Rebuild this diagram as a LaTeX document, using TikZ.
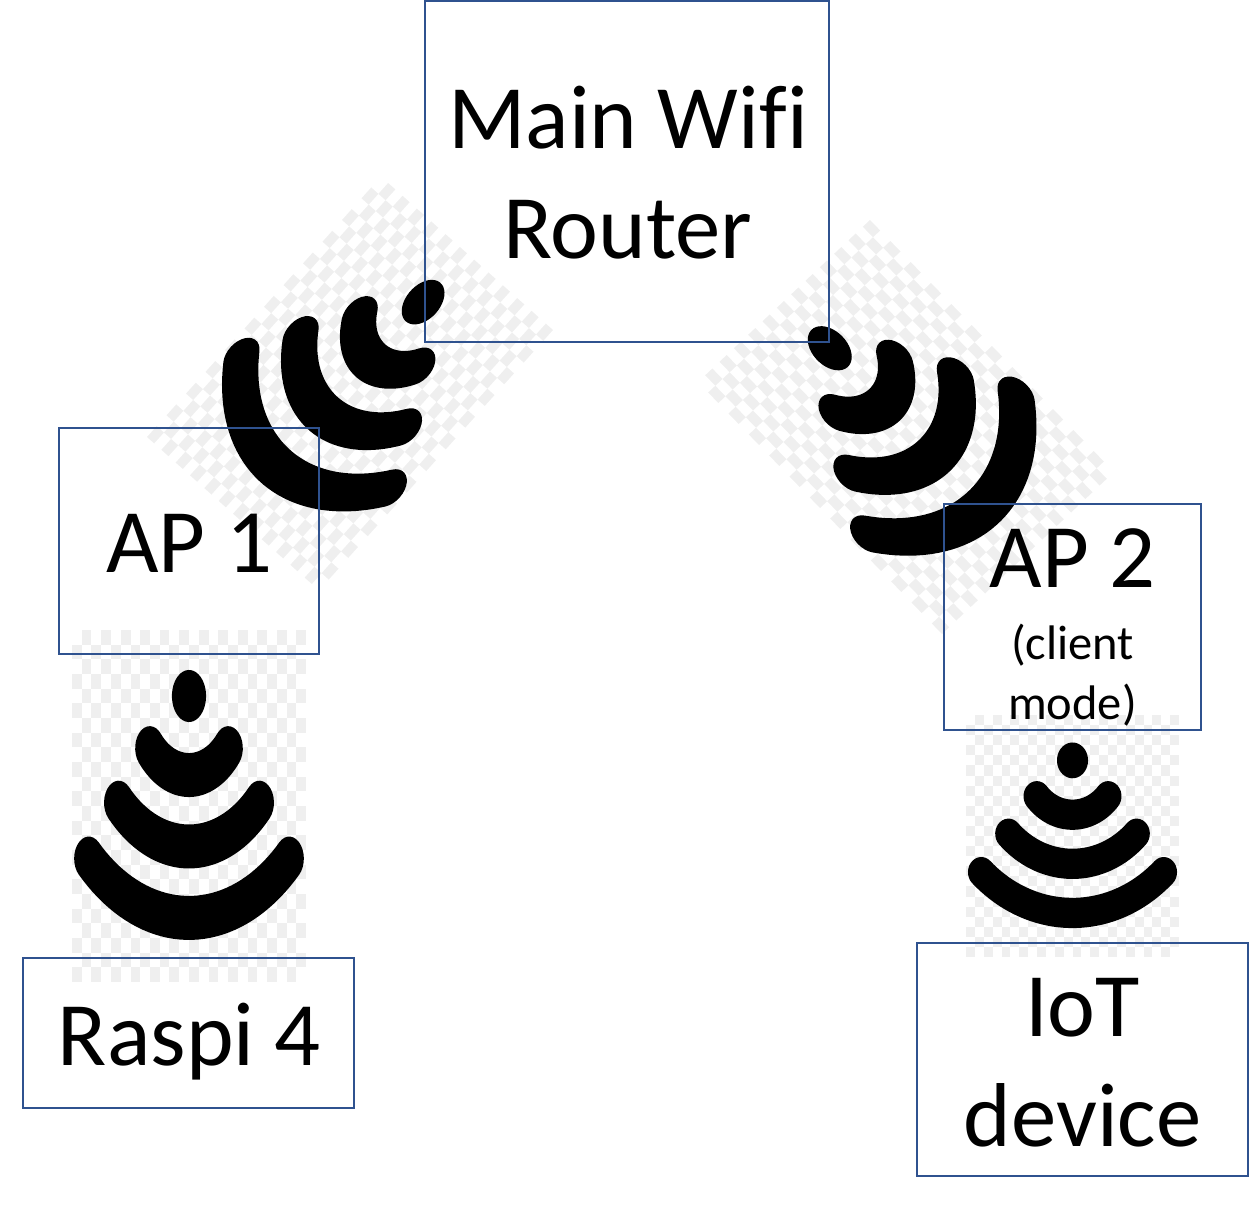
\documentclass[tikz,border=0pt]{standalone}
\usepackage{fontspec}
\setmainfont{Carlito}[Ligatures=NoCommon]
\definecolor{boxblue}{HTML}{2F528F}
\definecolor{checkgrey}{HTML}{EFEFEF}
\newcommand{\bigsize}{\fontsize{90.7}{110}\selectfont}
\newcommand{\smallsize}{\fontsize{48.5}{60}\selectfont}
\tikzset{
  boxnode/.style={draw=boxblue,line width=1.5pt,anchor=north west,inner sep=0pt,outer sep=0pt},
  boxlabel/.style={inner sep=0pt,outer sep=0pt,align=center,font=\bigsize},
  smalllabel/.style={inner sep=0pt,outer sep=0pt,align=center,font=\smallsize},
  checkcell/.style={fill=checkgrey,draw=none},
  wifibar/.style={fill=black,draw=none},
}
\newcommand{\wifibarshape}[3]{%
  \fill[wifibar] plot[domain=90-#2:90+#2,samples=40] ({.5+(#1+#3/2)*cos(\x)},{.19+(#1+#3/2)*sin(\x)})
   -- plot[domain=90+#2:270+#2,samples=16] ({.5+#1*cos(90+#2)+#3/2*cos(\x)},{.19+#1*sin(90+#2)+#3/2*sin(\x)})
   -- plot[domain=90+#2:90-#2,samples=40] ({.5+(#1-#3/2)*cos(\x)},{.19+(#1-#3/2)*sin(\x)})
   -- plot[domain=270-#2:450-#2,samples=16] ({.5+#1*cos(90-#2)+#3/2*cos(\x)},{.19+#1*sin(90-#2)+#3/2*sin(\x)})
   -- cycle;}
% #1,#2 origin, #3,#4 image x-axis, #5,#6 image y-axis (canvas pt, y up)
\newcommand{\wifiicon}[6]{%
  \begin{scope}[shift={(#1pt,#2pt)},x={(#3pt,#4pt)},y={(#5pt,#6pt)}]
    \foreach \r in {0,...,23}{\foreach \c in {0,...,23}{%
      \pgfmathparse{int(mod(\r+\c,2))}%
      \ifnum\pgfmathresult=1
        \fill[checkcell] ({\c/24},{\r/24}) -- ({(\c+1)/24},{\r/24}) -- ({(\c+1)/24},{(\r+1)/24}) -- ({\c/24},{(\r+1)/24}) -- cycle;
      \fi}}
    \fill[wifibar] plot[domain=0:360,samples=40] ({.5+.073*cos(\x)},{.1875+.074*sin(\x)}) -- cycle;
    \wifibarshape{.222}{49}{.125}
    \wifibarshape{.425}{45}{.125}
    \wifibarshape{.628}{43}{.125}
  \end{scope}}
\begin{document}
\begin{tikzpicture}[x=1pt,y=-1pt]
  \useasboundingbox (0,0) rectangle (1258,1225);
  \wifiicon{72}{-630}{234}{0}{0}{-352}
  \wifiicon{966}{-715}{213}{0}{0}{-242}
  \wifiicon{381}{-176.6}{172}{-153.4}{-234}{-260.4}
  \wifiicon{698}{-382}{172}{162}{244}{-252}
  \node[boxnode,minimum width=404pt,minimum height=341pt] (router) at (425,1) {};
  \node[boxnode,minimum width=260pt,minimum height=226pt] (apone) at (59,428) {};
  \node[boxnode,minimum width=257pt,minimum height=226pt] (aptwo) at (944,504) {};
  \node[boxnode,minimum width=331pt,minimum height=150pt] (raspi) at (23,958) {};
  \node[boxnode,minimum width=331pt,minimum height=233pt] (iot) at (917,943) {};
  \node[boxlabel,yshift=-1pt,xshift=1pt] (routerlabel) at (router.center) {Main Wifi\\Router};
  \node[boxlabel,yshift=-2pt] (aponelabel) at (apone.center) {AP 1};
  \node[boxlabel,anchor=north,yshift=-25pt] (aptwolabel) at (aptwo.north) {AP 2};
  \node[smalllabel,anchor=north,yshift=-120pt] (aptwosub) at (aptwo.north) {(client\\mode)};
  \node[boxlabel,yshift=-9pt,xshift=1pt] (raspilabel) at (raspi.center) {Raspi 4};
  \node[boxlabel,yshift=-3pt] (iotlabel) at (iot.center) {IoT\\device};
\end{tikzpicture}
\end{document}
